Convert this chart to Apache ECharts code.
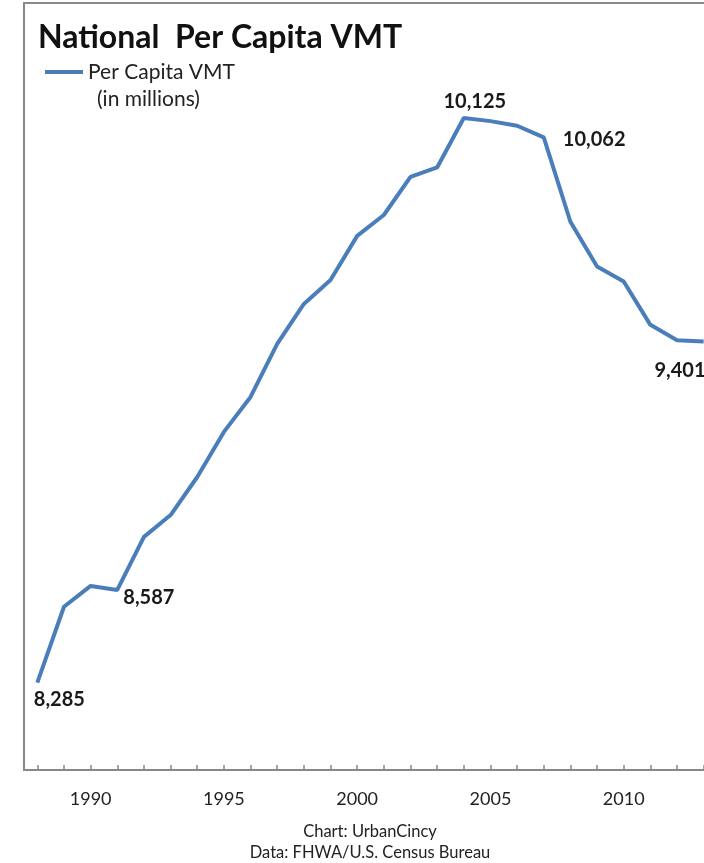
<!DOCTYPE html>
<html>
<head>
<meta charset="utf-8">
<script src="https://cdn.jsdelivr.net/npm/echarts@6/dist/echarts.min.js"></script>
<style>
html,body{margin:0;padding:0;background:#fff;}
#chart{width:704px;height:863px;}
</style>
</head>
<body>
<div id="chart"></div>
<script>
// ---- data ----
const years = ['1988','1989','1990','1991','1992','1993','1994','1995','1996','1997','1998','1999','2000','2001','2002','2003','2004','2005','2006','2007','2008','2009','2010','2011','2012','2013'];
const perCapitaVMT = [8285, 8532, 8600, 8587, 8760, 8831, 8955, 9102, 9216, 9389, 9519, 9597, 9741, 9809, 9933, 9964, 10125, 10115, 10100, 10062, 9787, 9641, 9592, 9451, 9401, 9397];
const labeledYears = ['1988', '1991', '2004', '2007', '2012'];
const seriesName = 'Per Capita VMT';
const seriesNote = '(in millions)';
const titleText = 'National  Per Capita VMT';
const footerLines = ['Chart: UrbanCincy', 'Data: FHWA/U.S. Census Bureau'];

// ---- label placement (style, not data) ----
const labelPlacement = {
  '1988': {position: 'bottom', offset: [22, 2]},
  '1991': {position: 'right', offset: [1, 8]},
  '2004': {position: 'top', offset: [11, -1]},
  '2007': {position: 'right', offset: [14, 2]},
  '2012': {position: 'bottom', offset: [3, 15]}
};

const FONT = 'Lato, "Open Sans", sans-serif';
const fmt = v => v.toLocaleString('en-US');

const seriesData = perCapitaVMT.map((v, i) => {
  const y = years[i];
  if (labeledYears.indexOf(y) >= 0) {
    const p = labelPlacement[y];
    return {
      value: v,
      label: {
        show: true,
        position: p.position,
        offset: p.offset,
        distance: 5,
        formatter: fmt(v),
        fontFamily: FONT,
        fontWeight: 'bold',
        fontSize: 20,
        color: '#1a1a1a'
      }
    };
  }
  return v;
});

const chart = echarts.init(document.getElementById('chart'), null, {renderer: 'canvas'});
chart.setOption({
  animation: false,
  backgroundColor: '#fff',
  title: {
    text: titleText,
    left: 38,
    top: 22,
    padding: 0,
    textStyle: {fontFamily: FONT, fontWeight: 'bold', fontSize: 32, color: '#111'}
  },
  legend: {
    data: [seriesName],
    left: 45,
    top: 61,
    padding: 0,
    icon: 'rect',
    itemWidth: 38,
    itemHeight: 4,
    textStyle: {fontFamily: FONT, fontSize: 21, color: '#222', lineHeight: 22}
  },
  graphic: [
    {type: 'text', left: 97, top: 89, style: {text: seriesNote, font: '21px ' + FONT, fill: '#222'}},
    {type: 'text', x: 370, y: 832, style: {text: footerLines[0], font: '16.5px ' + FONT, fill: '#222', textAlign: 'center', textVerticalAlign: 'middle'}},
    {type: 'text', x: 370, y: 853, style: {text: footerLines[1], font: '16.5px ' + FONT, fill: '#222', textAlign: 'center', textVerticalAlign: 'middle'}}
  ],
  grid: {
    left: 24, right: -13, top: 3, bottom: 93,
    show: true, borderColor: '#888', borderWidth: 2, backgroundColor: 'transparent',
    containLabel: false, outerBoundsMode: 'none'
  },
  xAxis: {
    type: 'category',
    data: years,
    boundaryGap: true,
    axisLine: {lineStyle: {color: '#888', width: 2}},
    axisTick: {show: true, alignWithLabel: true, inside: true, length: 5, interval: 0, lineStyle: {color: '#888', width: 1.5}},
    axisLabel: {
      interval: (i, v) => (+v) % 5 === 0,
      fontFamily: FONT, fontSize: 18, color: '#222', margin: 20
    },
    splitLine: {show: false}
  },
  yAxis: {
    type: 'value',
    min: 8000,
    max: 10500,
    axisLine: {show: true, lineStyle: {color: '#888', width: 2}},
    axisTick: {show: false},
    axisLabel: {show: false},
    splitLine: {show: false}
  },
  series: [{
    name: seriesName,
    type: 'line',
    data: seriesData,
    showSymbol: true,
    showAllSymbol: true,
    symbol: 'circle',
    symbolSize: 0.1,
    itemStyle: {color: '#4a7ebb'},
    lineStyle: {color: '#4a7ebb', width: 4},
    emphasis: {disabled: true}
  }]
});
</script>
</body>
</html>
